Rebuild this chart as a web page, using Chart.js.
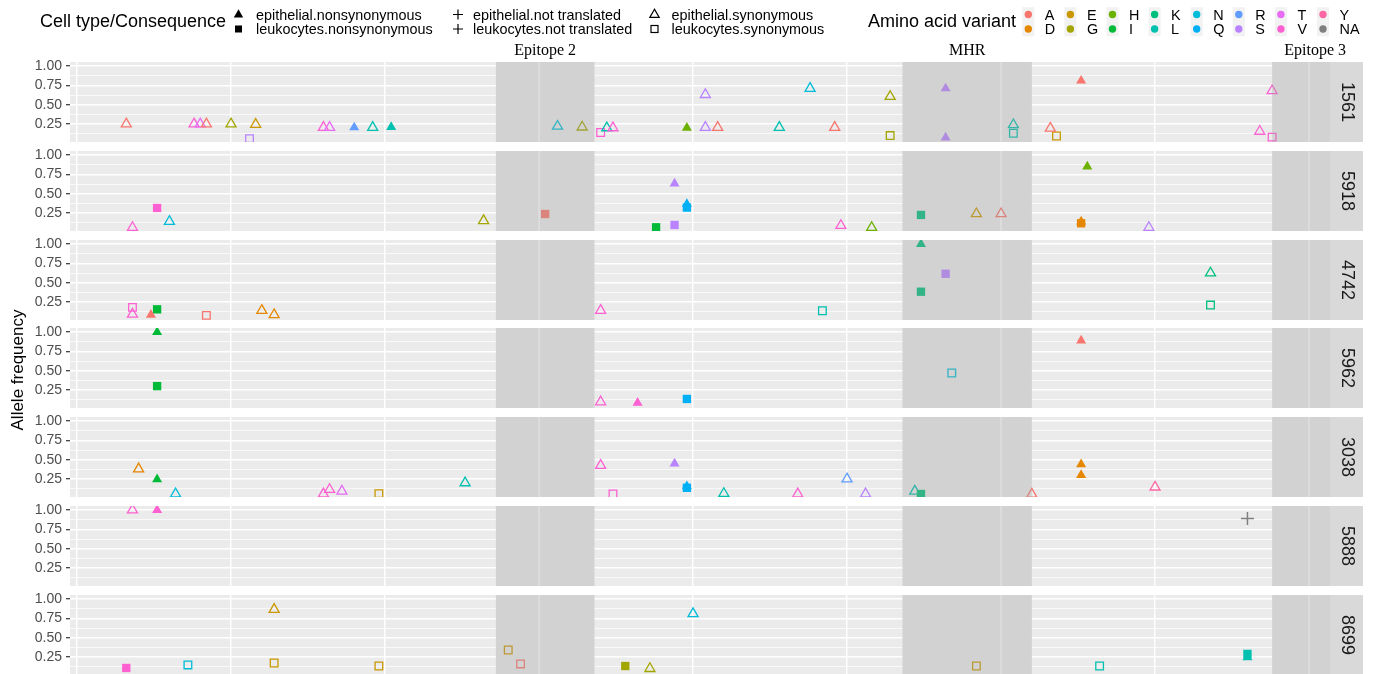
<!DOCTYPE html>
<html>
<head>
<meta charset="utf-8">
<title>Allele frequency by position</title>
<script src="https://cdn.jsdelivr.net/npm/chart.js@4.4.1/dist/chart.umd.min.js"></script>
<style>
  html, body { margin: 0; padding: 0; background: #fff; }
  #stage { position: relative; width: 1373px; height: 674px; overflow: hidden; }
  #stage canvas { position: absolute; left: 0; }
  #overlay { position: absolute; left: 0; top: 0; }
</style>
</head>
<body>
<div id="stage">
  <svg id="overlay" width="1373" height="674" xmlns="http://www.w3.org/2000/svg"></svg>
</div>
<script>
// Samples, one facet row each (top to bottom)
const samples = ['1561', '5918', '4742', '5962', '3038', '5888', '8699'];

// Amino acid variant levels and their hue colours
const aminoAcids = ['A', 'D', 'E', 'G', 'H', 'I', 'K', 'L', 'N', 'Q', 'R', 'S', 'T', 'V', 'Y', 'NA'];
const aminoColors = ['#F8766D', '#E58700', '#C99800', '#A3A500', '#6BB100', '#00BA38', '#00BF7D', '#00C0AF',
                     '#00BCD8', '#00B0F6', '#619CFF', '#B983FF', '#E76BF3', '#FD61D1', '#FF67A4', '#7F7F7F'];

// Cell type / consequence levels
const consequenceCodes = ['EN', 'LN', 'ET', 'LT', 'ES', 'LS'];
const consequenceLabels = ['epithelial.nonsynonymous', 'leukocytes.nonsynonymous',
                           'epithelial.not translated', 'leukocytes.not translated',
                           'epithelial.synonymous', 'leukocytes.synonymous'];

// Annotated protein regions (residue start / end)
const regionNames = ['Epitope 2', 'MHR', 'Epitope 3'];
const regionStart = [68, 134, 194];
const regionEnd = [84, 155, 208];

// Axis breaks
const positionBreaks = [0, 25, 50, 75, 100, 125, 150, 175, 200];
const freqBreaks = [0.25, 0.5, 0.75, 1.0];
const freqMinorBreaks = [0.125, 0.375, 0.625, 0.875];

// Variants per sample: [residue position, allele frequency, consequence, amino acid]
const var1561 = [
  [8, 0.25, 'ES', 'A'], [19, 0.25, 'ES', 'V'], [20, 0.25, 'ES', 'T'], [21, 0.25, 'ES', 'A'],
  [25, 0.25, 'ES', 'G'], [29, 0.245, 'ES', 'E'], [28, 0.06, 'LS', 'S'], [40, 0.205, 'ES', 'V'],
  [41, 0.205, 'ES', 'T'], [45, 0.205, 'EN', 'R'], [48, 0.205, 'ES', 'L'], [51, 0.21, 'EN', 'L'],
  [78, 0.22, 'ES', 'N'], [82, 0.21, 'ES', 'G'], [85, 0.14, 'LS', 'V'], [86, 0.2, 'ES', 'L'],
  [87, 0.2, 'ES', 'V'], [99, 0.2, 'EN', 'H'], [102, 0.63, 'ES', 'S'], [102, 0.205, 'ES', 'S'],
  [104, 0.205, 'ES', 'A'], [114, 0.205, 'ES', 'L'], [119, 0.71, 'ES', 'N'], [123, 0.205, 'ES', 'A'],
  [132, 0.605, 'ES', 'G'], [132, 0.1, 'LS', 'G'], [141, 0.71, 'EN', 'S'], [141, 0.075, 'EN', 'S'],
  [152, 0.24, 'ES', 'L'], [152, 0.13, 'LS', 'L'], [158, 0.195, 'ES', 'A'], [159, 0.095, 'LS', 'E'],
  [163, 0.81, 'EN', 'A'], [192, 0.155, 'ES', 'V'], [194, 0.68, 'ES', 'V'], [194, 0.08, 'LS', 'V']
];
const var5918 = [
  [9, 0.062, 'ES', 'V'], [13, 0.315, 'LN', 'V'], [15, 0.14, 'ES', 'N'], [66, 0.15, 'ES', 'G'],
  [76, 0.237, 'LN', 'A'], [94, 0.065, 'LN', 'I'], [97, 0.63, 'EN', 'S'], [97, 0.095, 'LN', 'S'],
  [99, 0.365, 'EN', 'Q'], [99, 0.32, 'LN', 'Q'], [124, 0.088, 'ES', 'V'], [129, 0.062, 'ES', 'H'],
  [137, 0.225, 'LN', 'K'], [146, 0.24, 'ES', 'E'], [150, 0.24, 'ES', 'A'], [163, 0.14, 'EN', 'D'],
  [163, 0.117, 'LN', 'D'], [164, 0.85, 'EN', 'H'], [174, 0.062, 'ES', 'S']
];
const var4742 = [
  [9, 0.18, 'LS', 'V'], [9, 0.092, 'ES', 'V'], [12, 0.085, 'EN', 'A'], [13, 0.155, 'LN', 'I'],
  [21, 0.077, 'LS', 'A'], [30, 0.14, 'ES', 'D'], [32, 0.085, 'ES', 'D'], [85, 0.14, 'ES', 'V'],
  [121, 0.137, 'LS', 'L'], [137, 1.0, 'EN', 'K'], [137, 0.383, 'LN', 'K'], [141, 0.615, 'LN', 'S'],
  [184, 0.625, 'ES', 'K'], [184, 0.21, 'LS', 'K']
];
const var5962 = [
  [13, 1.0, 'EN', 'I'], [13, 0.3, 'LN', 'I'], [85, 0.096, 'ES', 'V'], [91, 0.083, 'EN', 'V'],
  [99, 0.134, 'LN', 'Q'], [142, 0.47, 'LS', 'N'], [163, 0.89, 'EN', 'A']
];
const var3038 = [
  [10, 0.38, 'ES', 'D'], [13, 0.245, 'EN', 'I'], [16, 0.057, 'ES', 'N'], [40, 0.057, 'ES', 'V'],
  [41, 0.114, 'ES', 'V'], [43, 0.092, 'ES', 'T'], [49, 0.06, 'LS', 'E'], [63, 0.2, 'ES', 'L'],
  [85, 0.425, 'ES', 'V'], [87, 0.056, 'LS', 'V'], [97, 0.45, 'EN', 'S'], [99, 0.157, 'EN', 'Q'],
  [99, 0.136, 'LN', 'Q'], [105, 0.062, 'ES', 'L'], [117, 0.057, 'ES', 'V'], [125, 0.25, 'ES', 'R'],
  [128, 0.057, 'ES', 'S'], [136, 0.092, 'ES', 'L'], [137, 0.056, 'LN', 'K'], [155, 0.053, 'ES', 'A'],
  [163, 0.44, 'EN', 'D'], [163, 0.30, 'EN', 'D'], [175, 0.145, 'ES', 'Y']
];
const var5888 = [
  [9, 1.0, 'ES', 'V'], [13, 1.0, 'EN', 'V'], [190, 0.89, 'ET', 'NA']
];
const var8699 = [
  [8, 0.108, 'LN', 'V'], [18, 0.147, 'LS', 'N'], [32, 0.865, 'ES', 'E'], [32, 0.172, 'LS', 'E'],
  [49, 0.133, 'LS', 'E'], [70, 0.34, 'LS', 'E'], [72, 0.16, 'LS', 'A'], [89, 0.133, 'LN', 'G'],
  [93, 0.1, 'ES', 'G'], [100, 0.81, 'ES', 'N'], [146, 0.133, 'LS', 'E'], [166, 0.133, 'LS', 'L'],
  [190, 0.29, 'LN', 'L'], [190, 0.245, 'EN', 'L']
];
const panelRows = [var1561, var5918, var4742, var5962, var3038, var5888, var8699];

// ---------------------------------------------------------------------------
// Layout
const FONT = '"Liberation Sans", Arial, Helvetica, sans-serif';
const SERIF = '"Liberation Serif", "Times New Roman", serif';
const PANEL_TOPS = [62, 151, 240, 328, 417, 506, 595];
const PANEL_H = 80;
const AXIS_W = 70;          // y-axis area left of each panel
const PLOT_RIGHT = 1330;    // right edge of the panels
const STRIP_W = 33;
const X_RANGE = [-1.14, 203.4];
const Y_RANGE = [0.017, 1.052];

const colorOf = aa => aminoColors[aminoAcids.indexOf(aa)];

const shapeStyle = {
  EN: { pointStyle: 'triangle', filled: true, radius: 5.8 },
  LN: { pointStyle: 'rect', filled: true, radius: 5.9 },
  ET: { pointStyle: 'cross', filled: false, radius: 6.5 },
  LT: { pointStyle: 'cross', filled: false, radius: 6.5 },
  ES: { pointStyle: 'triangle', filled: false, radius: 5.8 },
  LS: { pointStyle: 'rect', filled: false, radius: 5.4 }
};

// Panel background, shaded regions, facet strip and region captions
const panelDecor = {
  id: 'panelDecor',
  beforeDraw(chart) {
    const { ctx, chartArea: a } = chart;
    ctx.save();
    ctx.fillStyle = '#EBEBEB';
    ctx.fillRect(a.left, a.top, a.width, a.height);
    ctx.restore();
  },
  beforeDatasetsDraw(chart) {
    const { ctx, chartArea: a, scales: { x } } = chart;
    ctx.save();
    ctx.beginPath();
    ctx.rect(a.left, a.top, a.width, a.height);
    ctx.clip();
    regionStart.forEach((s, i) => {
      const x0 = x.getPixelForValue(s), x1 = x.getPixelForValue(regionEnd[i]);
      ctx.fillStyle = '#EBEBEB';
      ctx.fillRect(x0, a.top, x1 - x0, a.height);
      ctx.strokeStyle = '#FFFFFF';
      ctx.lineWidth = 1.4;
      positionBreaks.forEach(b => {
        if (b > s && b < regionEnd[i]) {
          const px = x.getPixelForValue(b);
          ctx.beginPath();
          ctx.moveTo(px, a.top);
          ctx.lineTo(px, a.bottom);
          ctx.stroke();
        }
      });
    });
    ctx.restore();
  },
  afterDatasetsDraw(chart) {
    const { ctx, chartArea: a, scales: { x } } = chart;
    ctx.save();
    ctx.beginPath();
    ctx.rect(a.left, a.top, a.width, a.height);
    ctx.clip();
    ctx.fillStyle = 'rgba(160,160,160,0.32)';
    regionStart.forEach((s, i) => {
      const x0 = x.getPixelForValue(s), x1 = x.getPixelForValue(regionEnd[i]);
      ctx.fillRect(x0, a.top, x1 - x0, a.height);
    });
    ctx.restore();
  },
  afterDraw(chart, args, opts) {
    const { ctx, chartArea: a, scales: { x } } = chart;
    ctx.save();
    ctx.fillStyle = '#D9D9D9';
    ctx.fillRect(a.right, a.top, STRIP_W, a.height);
    ctx.fillStyle = '#1A1A1A';
    ctx.font = '18px ' + FONT;
    ctx.textAlign = 'center';
    ctx.textBaseline = 'middle';
    ctx.translate(a.right + STRIP_W / 2, (a.top + a.bottom) / 2);
    ctx.rotate(Math.PI / 2);
    ctx.fillText(opts.sample, 0, 0);
    ctx.restore();
    if (opts.captions) {
      ctx.save();
      ctx.fillStyle = '#000';
      ctx.font = '16px ' + SERIF;
      ctx.textAlign = 'center';
      ctx.textBaseline = 'middle';
      regionNames.forEach((n, i) => {
        const cx = x.getPixelForValue((regionStart[i] + regionEnd[i]) / 2);
        ctx.fillText(n, cx, a.top - 11);
      });
      ctx.restore();
    }
  }
};

const stage = document.getElementById('stage');
const overlay = document.getElementById('overlay');

samples.forEach((sample, i) => {
  const padTop = i === 0 ? 26 : 16;
  const padBottom = 16;
  const canvas = document.createElement('canvas');
  canvas.width = 1373;
  canvas.height = padTop + PANEL_H + padBottom;
  canvas.style.top = (PANEL_TOPS[i] - padTop) + 'px';
  stage.insertBefore(canvas, overlay);

  const rows = panelRows[i];
  const datasets = consequenceCodes.map((code, k) => {
    const st = shapeStyle[code];
    return {
      label: consequenceLabels[k],
      data: rows.filter(r => r[2] === code).map(r => ({ x: r[0], y: r[1], aa: r[3] })),
      pointStyle: st.pointStyle,
      pointRadius: st.radius,
      pointBorderWidth: st.pointStyle === 'cross' ? 1.5 : (st.filled ? 0 : 1.3),
      pointBackgroundColor: c => st.filled ? colorOf(c.raw.aa) : 'rgba(0,0,0,0)',
      pointBorderColor: c => colorOf(c.raw.aa)
    };
  }).filter(d => d.data.length);

  new Chart(canvas, {
    type: 'scatter',
    data: { datasets },
    plugins: [panelDecor],
    options: {
      responsive: false,
      animation: false,
      devicePixelRatio: 1,
      events: [],
      layout: { padding: { top: padTop, bottom: padBottom, left: 0, right: 1373 - PLOT_RIGHT } },
      plugins: {
        legend: { display: false },
        tooltip: { enabled: false },
        panelDecor: { sample, captions: i === 0 }
      },
      scales: {
        x: {
          type: 'linear',
          min: X_RANGE[0], max: X_RANGE[1],
          afterBuildTicks: s => { s.ticks = positionBreaks.map(v => ({ value: v })); },
          afterFit: s => { s.height = 0; },
          ticks: { display: false },
          border: { display: false },
          grid: { color: '#FFFFFF', lineWidth: 1.4, drawTicks: false }
        },
        y: {
          type: 'linear',
          min: Y_RANGE[0], max: Y_RANGE[1],
          afterBuildTicks: s => {
            s.ticks = [...freqMinorBreaks, ...freqBreaks].sort((p, q) => p - q).map(v => ({ value: v }));
          },
          afterFit: s => { s.width = AXIS_W; },
          ticks: {
            autoSkip: false,
            padding: 4,
            color: '#4D4D4D',
            font: { family: FONT, size: 14 },
            callback: v => freqBreaks.includes(v) ? v.toFixed(2) : ''
          },
          border: { display: false },
          grid: {
            color: '#FFFFFF',
            lineWidth: c => freqBreaks.includes(c.tick.value) ? 1.4 : 0.7,
            tickColor: c => freqBreaks.includes(c.tick.value) ? '#333333' : 'rgba(0,0,0,0)',
            tickLength: 4,
            tickWidth: 1.2
          }
        }
      }
    }
  });
});

// ---------------------------------------------------------------------------
// Legends and y-axis title
const NS = 'http://www.w3.org/2000/svg';
function add(tag, attrs, text) {
  const e = document.createElementNS(NS, tag);
  Object.entries(attrs).forEach(([k, v]) => e.setAttribute(k, v));
  if (text !== undefined) e.textContent = text;
  overlay.appendChild(e);
  return e;
}
function label(x, y, size, text, extra) {
  return add('text', Object.assign({ x, y, 'font-size': size, 'font-family': FONT, fill: '#000',
    'dominant-baseline': 'central' }, extra || {}), text);
}

const ROWS_Y = [14.5, 29];

label(40, 21, 18, 'Cell type/Consequence');
const shapeKeyX = [238.5, 458, 654.5];
const shapeTextX = [256, 473, 671.5];
consequenceCodes.forEach((code, k) => {
  const col = Math.floor(k / 2), cy = ROWS_Y[k % 2], cx = shapeKeyX[col];
  if (code === 'EN' || code === 'ES') {
    add('polygon', {
      points: `${cx},${cy - 5.3} ${cx - 4.7},${cy + 2.9} ${cx + 4.7},${cy + 2.9}`,
      fill: code === 'EN' ? '#000' : 'none', stroke: code === 'EN' ? 'none' : '#000', 'stroke-width': 1.2
    });
  } else if (code === 'LN' || code === 'LS') {
    add('rect', {
      x: cx - 3.5, y: cy - 3.5, width: 7, height: 7,
      fill: code === 'LN' ? '#000' : 'none', stroke: code === 'LN' ? 'none' : '#000', 'stroke-width': 1.2
    });
  } else {
    add('path', { d: `M${cx - 5},${cy} H${cx + 5} M${cx},${cy - 5} V${cy + 5}`, stroke: '#000', 'stroke-width': 1.2, fill: 'none' });
  }
  label(shapeTextX[col], cy, 14.4, consequenceLabels[k]);
});

label(868, 21, 18, 'Amino acid variant');
aminoAcids.forEach((aa, k) => {
  const col = Math.floor(k / 2), cy = ROWS_Y[k % 2];
  const cx = 1028.3 + col * 42.1;
  add('rect', { x: cx - 6, y: cy - 7.3, width: 12, height: 14.6, fill: '#F2F2F2' });
  add('circle', { cx, cy, r: 3.7, fill: aminoColors[k] });
  label(cx + 16.5, cy, 14.4, aa);
});

add('text', {
  transform: 'translate(17,370) rotate(-90)', 'text-anchor': 'middle', 'dominant-baseline': 'central',
  'font-size': 17, 'font-family': FONT, fill: '#000'
}, 'Allele frequency');
</script>
</body>
</html>
